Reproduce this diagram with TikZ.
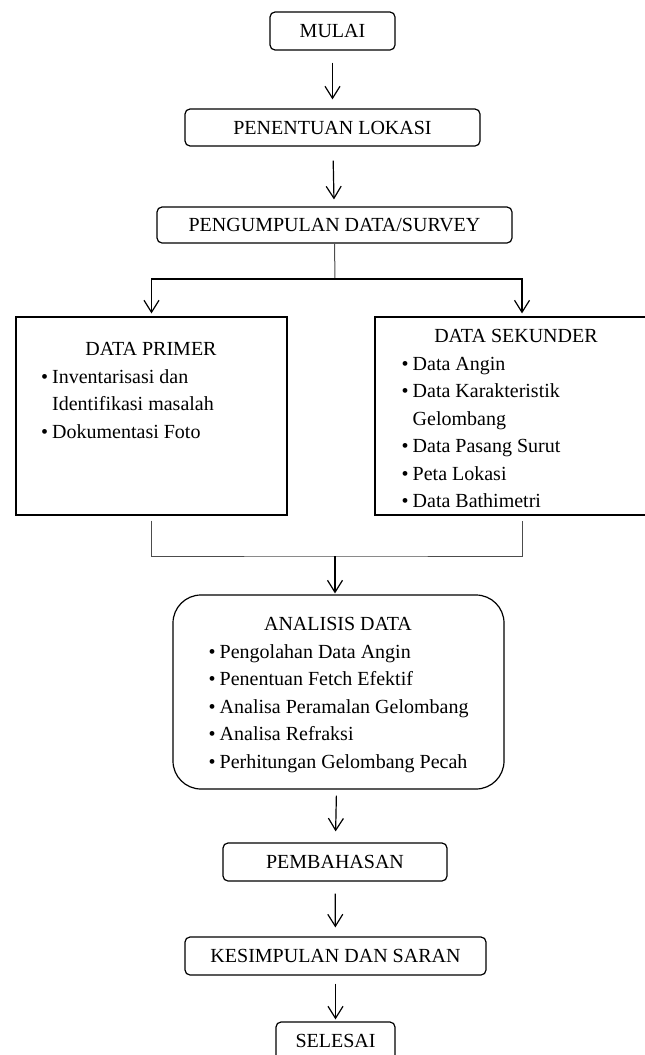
\documentclass[tikz,border=0pt]{standalone}
\usepackage{fontspec}
\setmainfont{Liberation Serif}
\usetikzlibrary{arrows.meta}

\tikzset{
  stepbox/.style={draw, line width=1.2pt, rounded corners=5pt, inner sep=0pt,
    minimum height=38pt, text height=13pt, text depth=0pt},
  panel/.style={draw, line width=1.2pt, inner sep=0pt},
  flow/.style={line width=1.2pt, -{Straight Barb[length=12pt,width=15pt]}},
  stub/.style={line width=1pt, black!70},
  txt/.style={inner sep=0pt},
}

\begin{document}
\begin{tikzpicture}[x=1pt, y=-1pt, font=\fontsize{20}{27.5}\selectfont]
  \useasboundingbox (0,0) rectangle (645,1055);
  % start and first steps
  \node[stepbox, minimum width=125pt] (mulai) at (332.5,31) {MULAI};
  \node[stepbox, minimum width=295pt, minimum height=37pt] (lokasi) at (332.5,127.5) {PENENTUAN LOKASI};
  \node[stepbox, minimum width=355pt, minimum height=36pt] (survey) at (334.5,225) {PENGUMPULAN DATA/SURVEY};
  % data boxes
  \node[panel, minimum width=271pt, minimum height=198pt] (primer) at (151.5,416) {};
  \node[panel, minimum width=294pt, minimum height=198pt] (sekunder) at (522,416) {};
  \node[txt, anchor=base] (primertitle) at (151,355) {DATA PRIMER};
  \node[txt, anchor=base west] (primerlist) at (41,383) {%
    \begin{tabular}[t]{@{}l@{\hspace{4pt}}l@{}}
      \textbullet & Inventarisasi dan\\
                  & Identifikasi masalah\\
      \textbullet & Dokumentasi Foto
    \end{tabular}};
  \node[txt, anchor=base] (sekundertitle) at (516,342) {DATA SEKUNDER};
  \node[txt, anchor=base west] (sekunderlist) at (401.5,370) {%
    \begin{tabular}[t]{@{}l@{\hspace{4pt}}l@{}}
      \textbullet & Data Angin\\
      \textbullet & Data Karakteristik\\
                  & Gelombang\\
      \textbullet & Data Pasang Surut\\
      \textbullet & Peta Lokasi\\
      \textbullet & Data Bathimetri
    \end{tabular}};
  % analysis box
  \node[panel, rounded corners=28pt, minimum width=331pt, minimum height=194pt] (analisis) at (338.5,692) {};
  \node[txt, anchor=base] (analisistitle) at (338,630) {ANALISIS DATA};
  \node[txt, anchor=base west] (analisislist) at (208.5,658) {%
    \begin{tabular}[t]{@{}l@{\hspace{4pt}}l@{}}
      \textbullet & Pengolahan Data Angin\\
      \textbullet & Penentuan Fetch Efektif\\
      \textbullet & Analisa Peramalan Gelombang\\
      \textbullet & Analisa Refraksi\\
      \textbullet & Perhitungan Gelombang Pecah
    \end{tabular}};
  % last steps
  \node[stepbox, minimum width=224pt] (bahas) at (335,862) {PEMBAHASAN};
  \node[stepbox, minimum width=301pt] (simpul) at (335.5,956) {KESIMPULAN DAN SARAN};
  \node[stepbox, minimum width=119pt] (selesai) at (335.5,1041) {SELESAI};
  % arrows
  \coordinate (split) at (335,279);
  \coordinate (join) at (335,556);
  \draw[flow, shorten <=12pt, shorten >=9pt] (mulai) -- (lokasi);
  \draw[flow, shorten <=14pt, shorten >=7pt] (lokasi) -- (survey);
  \draw[stub] (survey.south) -- (split);
  \draw[flow, shorten >=3pt] (split) -| (primer.north);
  \draw[flow, shorten >=3pt] (split) -| (sekunder.north);
  \draw[stub, shorten <=5pt, shorten >=5pt] (primer.south) |- (join) -| (sekunder.south);
  \draw[flow, shorten >=1pt] (join) -- (join |- analisis.north);
  \draw[flow, shorten <=6pt, shorten >=11pt] (analisis) -- (bahas);
  \draw[flow, shorten <=12pt, shorten >=9pt] (bahas) -- (simpul);
  \draw[flow, shorten <=8pt, shorten >=2pt] (simpul) -- (selesai);
\end{tikzpicture}
\end{document}
